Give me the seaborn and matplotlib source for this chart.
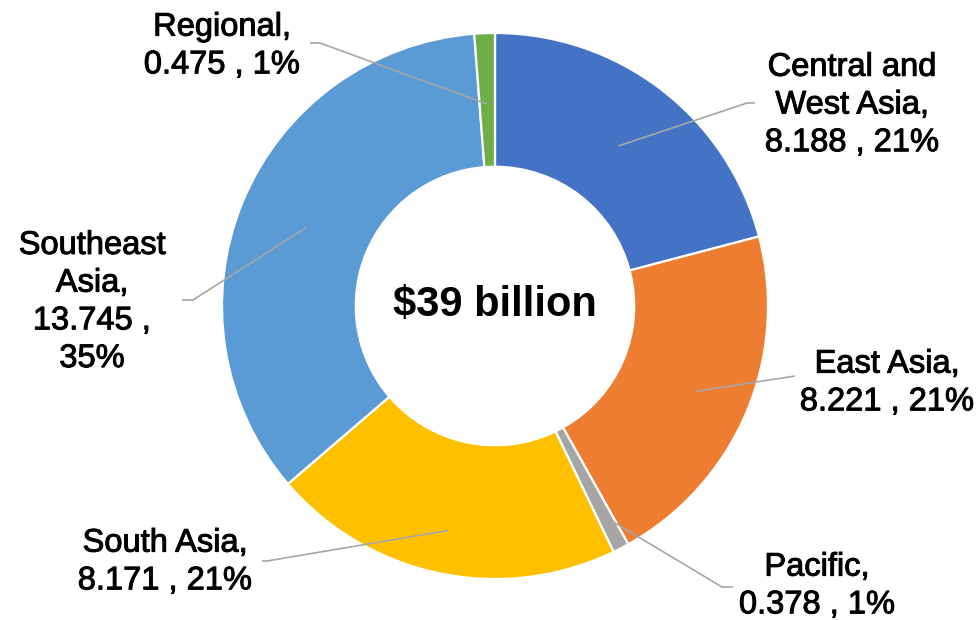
import numpy as np
import matplotlib
matplotlib.use("Agg")
import matplotlib.pyplot as plt
import matplotlib.patheffects as pe
import seaborn as sns

# data
regions = ["Central and\nWest Asia", "East Asia", "Pacific", "South Asia", "Southeast\nAsia", "Regional"]
amounts = [8.188, 8.221, 0.378, 8.171, 13.745, 0.475]
colors = ["#4472C4", "#ED7D31", "#A5A5A5", "#FFC000", "#5B9BD5", "#70AD47"]
center_label = "$39 billion"

sns.set_theme(style="white")
plt.rcParams["font.family"] = ["Liberation Sans", "DejaVu Sans"]

W, H = 979, 620
fig = plt.figure(figsize=(W / 100, H / 100), dpi=100)
ax = fig.add_axes([0, 0, 1, 1])

# donut geometry (pixels, y from top)
cx, cy, R = 495, 306, 273
ring = 0.49

ax.pie(amounts, colors=colors, startangle=90, counterclock=False,
       radius=R, center=(cx, H - cy),
       wedgeprops=dict(width=R * ring, edgecolor="white", linewidth=1.6))
ax.set_xlim(0, W)
ax.set_ylim(0, H)
ax.set_aspect("equal")
ax.axis("off")

ax.text(cx, H - 305, center_label, ha="center", va="center",
        fontsize=30, fontweight="bold", color="black")

# label layout: leader start radius, elbow, text end, text center
start_r = [0.74, 0.80, 0.87, 0.84, 0.75, 0.74]
elbow = [(747, 103), (795, 376), (722, 587), (267, 561), (193, 300), (320, 43)]
line_end = [(755, 103), (795, 376), (733, 587), (262, 561), (182, 300), (310, 43)]
text_pos = [(852, 105), (887, 383), (817, 586), (165, 562), (92, 302), (222, 46)]
pct_sep = [" ", " ", " ", " ", "\n", " "]

total = sum(amounts)
cum = np.cumsum([0] + amounts)
thick = [pe.withStroke(linewidth=0.7, foreground="black")]
for i, name in enumerate(regions):
    mid = 90 - (cum[i] + amounts[i] / 2) / total * 360
    a = np.deg2rad(mid)
    sx = cx + start_r[i] * R * np.cos(a)
    sy = cy - start_r[i] * R * np.sin(a)
    xs = [sx, elbow[i][0], line_end[i][0]]
    ys = [H - sy, H - elbow[i][1], H - line_end[i][1]]
    ax.plot(xs, ys, color="#A6A6A6", lw=1.2, solid_capstyle="butt")
    pct = round(amounts[i] / total * 100)
    label = f"{name},\n{amounts[i]:.3f} ,{pct_sep[i]}{pct}%"
    ax.text(text_pos[i][0], H - text_pos[i][1], label, ha="center", va="center",
            fontsize=23.5, color="black", linespacing=1.28, path_effects=thick)

fig.savefig("out.png", dpi=100, facecolor="white")
